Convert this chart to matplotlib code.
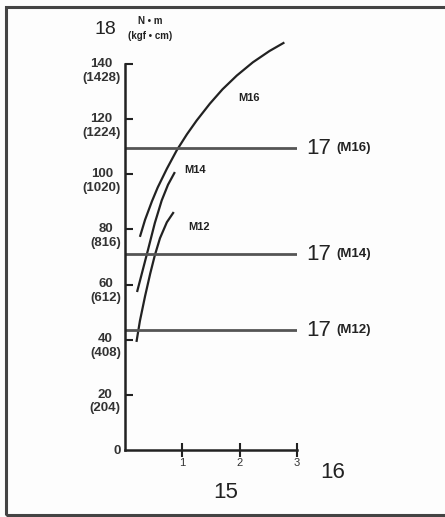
import matplotlib
matplotlib.use("Agg")
import matplotlib.pyplot as plt
from matplotlib import patches
from matplotlib.transforms import ScaledTranslation

plt.rcParams["font.family"] = ["Liberation Sans", "DejaVu Sans"]

# 曲線
m16_x = [0.26, 0.35, 0.47, 0.57, 0.73, 0.90, 1.08, 1.25, 1.48, 1.70, 1.95, 2.23, 2.52, 2.78]
m16_y = [77.3, 83.5, 90.2, 95.2, 102.0, 108.6, 114.5, 119.5, 125.6, 130.8, 135.8, 140.6, 144.7, 147.8]
m14_x = [0.21, 0.31, 0.40, 0.52, 0.64, 0.75, 0.87]
m14_y = [57.3, 65.3, 72.5, 82.3, 90.5, 96.2, 100.8]
m12_x = [0.20, 0.26, 0.35, 0.44, 0.52, 0.61, 0.73, 0.85]
m12_y = [39.2, 46.8, 55.8, 64.0, 70.6, 76.8, 82.6, 86.3]

# 基準線
ref_names = ["(M16)", "(M14)", "(M12)"]
ref_values = [109.5, 71.0, 43.5]

curve_labels = ["M16", "M14", "M12"]
curve_label_pos = [(2.16, 127.7), (1.22, 101.6), (1.29, 80.9)]

y_ticks = [0, 20, 40, 60, 80, 100, 120, 140]
y_ticklabels = ["0", "20\n(204)", "40\n(408)", "60\n(612)", "80\n(816)",
                "100\n(1020)", "120\n(1224)", "140\n(1428)"]
x_ticks = [1, 2, 3]
x_ticklabels = ["1", "2", "3"]

INK = "#222222"

fig = plt.figure(figsize=(4.45, 5.17), dpi=100)
fig.patch.set_facecolor("#fdfdfd")
ax = fig.add_axes([125 / 445, (517 - 450) / 517, 172 / 445, (450 - 36.4) / 517])
ax.set_facecolor("none")
ax.set_xlim(0, 3)
ax.set_ylim(0, 150)

for xs, ys in [(m16_x, m16_y), (m14_x, m14_y), (m12_x, m12_y)]:
    ax.plot(xs, ys, color=INK, lw=1.6, solid_capstyle="butt",
            solid_joinstyle="round", clip_on=False)

for name, v in zip(ref_names, ref_values):
    ax.plot([0, 3], [v, v], color="#555555", lw=2.0, solid_capstyle="butt")
    ax.annotate("17", (3, v), xytext=(7, 0), textcoords="offset points",
                fontsize=16, va="center", ha="left", color=INK,
                annotation_clip=False)
    ax.annotate(name, (3, v), xytext=(28, 0), textcoords="offset points",
                fontsize=9.5, fontweight="bold", va="center", ha="left",
                color=INK, annotation_clip=False)

for lab, (lx, ly) in zip(curve_labels, curve_label_pos):
    ax.text(lx, ly, lab, fontsize=8, fontweight="bold", color=INK,
            ha="center", va="center")

# 軸
for s in ["top", "right"]:
    ax.spines[s].set_visible(False)
ax.spines["left"].set_bounds(0, 140)
ax.spines["bottom"].set_bounds(0, 3)
for s in ["left", "bottom"]:
    ax.spines[s].set_linewidth(1.8)
    ax.spines[s].set_color(INK)

ax.set_yticks(y_ticks)
ax.set_yticklabels(y_ticklabels)
ax.tick_params(axis="y", direction="in", length=6, width=1.5, color=INK,
               pad=3, labelsize=9.5, labelcolor="#333333")
shift = ScaledTranslation(0, 4.5 / 72, fig.dpi_scale_trans)
for t in ax.get_yticklabels():
    t.set_fontweight("bold")
    if "\n" in t.get_text():
        t.set_multialignment("center")
        t.set_va("top")
        t.set_transform(t.get_transform() + shift)
ax.yaxis.get_major_ticks()[0].tick1line.set_visible(False)

ax.set_xticks(x_ticks)
ax.set_xticklabels(x_ticklabels)
ax.tick_params(axis="x", direction="inout", length=10, width=1.5, color=INK,
               pad=1, labelsize=8, labelcolor="#333333")

# 単位・記号
fig.text(105 / 445, 1 - 30 / 517, "18", fontsize=14, ha="center", va="center", color=INK)
fig.text(150 / 445, 1 - 21 / 517, "N • m", fontsize=7, fontweight="bold",
         ha="center", va="center", color=INK)
fig.text(150 / 445, 1 - 36 / 517, "(kgf • cm)", fontsize=7, fontweight="bold",
         ha="center", va="center", color=INK)
fig.text(226 / 445, 1 - 493 / 517, "15", fontsize=16, ha="center", va="center", color=INK)
fig.text(333 / 445, 1 - 473 / 517, "16", fontsize=16, ha="center", va="center", color=INK)

# 外枠
fig.patches.append(patches.Rectangle(
    (5.5 / 445, 1 - 515 / 517), 460 / 445, (515 - 7) / 517,
    transform=fig.transFigure, fill=False, edgecolor="#444444", lw=2.2))

fig.savefig("out.png", dpi=100)
